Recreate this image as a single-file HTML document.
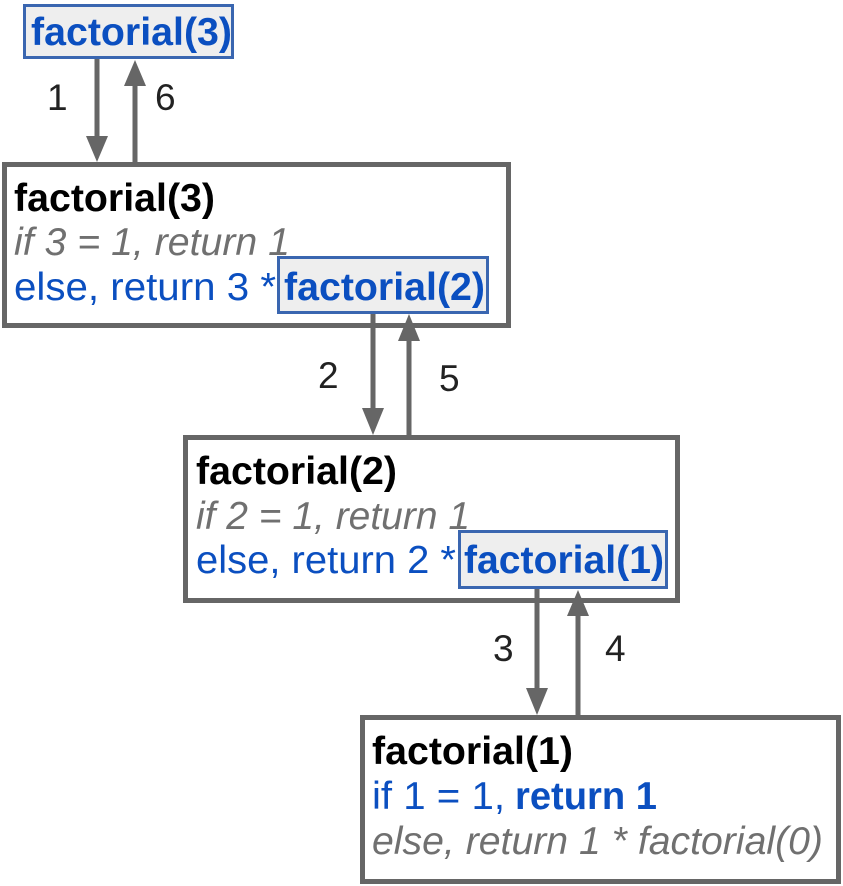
<!DOCTYPE html>
<html><head><style>body{margin:0;background:#fff}svg{display:block}</style></head>
<body>
<svg width="843" height="886" xmlns="http://www.w3.org/2000/svg" font-family="Liberation Sans, Arial, sans-serif" font-size="39">
<rect x="4.5" y="164.5" width="504" height="161" fill="#fff" stroke="#666" stroke-width="5"/>
<rect x="185.5" y="437.5" width="492" height="163" fill="#fff" stroke="#666" stroke-width="5"/>
<rect x="362.5" y="717.5" width="476" height="164" fill="#fff" stroke="#666" stroke-width="5"/>
<rect x="24.5" y="5.5" width="208" height="52" fill="#eeeeee" stroke="#3a66b0" stroke-width="3"/>
<rect x="278.5" y="257.5" width="209" height="55" fill="#eeeeee" stroke="#3a66b0" stroke-width="3"/>
<rect x="459.5" y="531.5" width="207" height="56" fill="#eeeeee" stroke="#3a66b0" stroke-width="3"/>
<g stroke="#666" stroke-width="5" fill="#666">
<line x1="97" y1="59" x2="97" y2="140"/><path d="M86,136 L108,136 L97,162 z" stroke="none"/>
<line x1="135" y1="162" x2="135" y2="82"/><path d="M124,86 L146,86 L135,60 z" stroke="none"/>
<line x1="373" y1="314" x2="373" y2="412"/><path d="M362,408 L384,408 L373,435 z" stroke="none"/>
<line x1="409" y1="435" x2="409" y2="337"/><path d="M398,341 L420,341 L409,314 z" stroke="none"/>
<line x1="537" y1="589" x2="537" y2="692"/><path d="M526,688 L548,688 L537,715 z" stroke="none"/>
<line x1="578" y1="715" x2="578" y2="612"/><path d="M567,616 L589,616 L578,590 z" stroke="none"/>
</g>
<g fill="#222" font-size="37">
<text x="47" y="110">1</text><text x="155" y="110">6</text>
<text x="318" y="388">2</text><text x="439" y="391">5</text>
<text x="493" y="661">3</text><text x="605" y="661">4</text>
</g>
<text x="31" y="45" font-weight="bold" fill="#0b4fc0" textLength="201" lengthAdjust="spacingAndGlyphs">factorial(3)</text>
<text x="14" y="211" font-weight="bold" fill="#000" textLength="201" lengthAdjust="spacingAndGlyphs">factorial(3)</text>
<text x="14" y="255" font-style="italic" fill="#707070" textLength="276" lengthAdjust="spacingAndGlyphs">if 3 = 1, return 1</text>
<text x="14" y="300" fill="#0b4fc0" textLength="262" lengthAdjust="spacingAndGlyphs">else, return 3 *</text>
<text x="284" y="300" font-weight="bold" fill="#0b4fc0" textLength="201" lengthAdjust="spacingAndGlyphs">factorial(2)</text>
<text x="196" y="484" font-weight="bold" fill="#000" textLength="201" lengthAdjust="spacingAndGlyphs">factorial(2)</text>
<text x="196" y="529" font-style="italic" fill="#707070" textLength="274" lengthAdjust="spacingAndGlyphs">if 2 = 1, return 1</text>
<text x="196" y="573" fill="#0b4fc0" textLength="260" lengthAdjust="spacingAndGlyphs">else, return 2 *</text>
<text x="464" y="573" font-weight="bold" fill="#0b4fc0" textLength="200" lengthAdjust="spacingAndGlyphs">factorial(1)</text>
<text x="372" y="764" font-weight="bold" fill="#000" textLength="201" lengthAdjust="spacingAndGlyphs">factorial(1)</text>
<text x="372" y="809" fill="#0b4fc0" textLength="133" lengthAdjust="spacingAndGlyphs">if 1 = 1,</text>
<text x="515" y="809" font-weight="bold" fill="#0b4fc0" textLength="142" lengthAdjust="spacingAndGlyphs">return 1</text>
<text x="372" y="854" font-style="italic" fill="#707070" textLength="451" lengthAdjust="spacingAndGlyphs">else, return 1 * factorial(0)</text>
</svg>
</body></html>
